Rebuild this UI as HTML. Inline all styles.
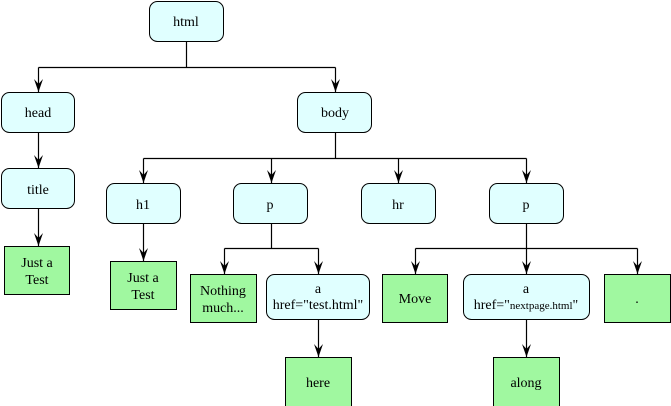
<!DOCTYPE html>
<html><head><meta charset="utf-8"><style>
html,body{margin:0;padding:0;background:#fff;}
svg{display:block;}
text{font-family:"Liberation Serif",serif;font-size:14px;fill:#000;text-anchor:middle;}
.r{fill:#e0ffff;stroke:#000;stroke-width:1;}
.g{fill:#a0f8a0;stroke:#000;stroke-width:1;}
.l{stroke:#000;stroke-width:1.2;fill:none;}
</style></head><body>
<svg width="671" height="406" viewBox="0 0 671 406" xmlns="http://www.w3.org/2000/svg">
<defs>
<marker id="a" markerWidth="14" markerHeight="10" refX="14" refY="5" orient="auto" markerUnits="userSpaceOnUse" viewBox="0 0 14 10">
<path d="M14 5 L1 0.5 L6 5 L1 9.5 Z" fill="#000"/>
</marker>
</defs>
<path class="l" d="M186.5 41 V67.5 M38.5 67.5 H335.5"/>
<path class="l" d="M38.5 67.5 V92" marker-end="url(#a)"/>
<path class="l" d="M335.5 67.5 V92" marker-end="url(#a)"/>
<path class="l" d="M38.5 132 V168" marker-end="url(#a)"/>
<path class="l" d="M38.5 208 V246" marker-end="url(#a)"/>
<path class="l" d="M335.5 132 V158.5 M143.5 158.5 H526.5"/>
<path class="l" d="M143.5 158.5 V183" marker-end="url(#a)"/>
<path class="l" d="M271.5 158.5 V183" marker-end="url(#a)"/>
<path class="l" d="M398.5 158.5 V183" marker-end="url(#a)"/>
<path class="l" d="M526.5 158.5 V183" marker-end="url(#a)"/>
<path class="l" d="M143.5 223 V261" marker-end="url(#a)"/>
<path class="l" d="M271.5 223 V248.5 M224.5 248.5 H318.5"/>
<path class="l" d="M224.5 248.5 V274" marker-end="url(#a)"/>
<path class="l" d="M318.5 248.5 V274" marker-end="url(#a)"/>
<path class="l" d="M526.5 223 V248.5 M415.5 248.5 H637.5"/>
<path class="l" d="M415.5 248.5 V274" marker-end="url(#a)"/>
<path class="l" d="M526.5 248.5 V274" marker-end="url(#a)"/>
<path class="l" d="M637.5 248.5 V274" marker-end="url(#a)"/>
<path class="l" d="M318.5 319 V357" marker-end="url(#a)"/>
<path class="l" d="M526.5 319 V357" marker-end="url(#a)"/>
<rect class="r" x="149.5" y="1.5" width="74" height="40" rx="8"/><text x="186" y="26">html</text>
<rect class="r" x="1.5" y="92.5" width="73" height="40" rx="8"/><text x="38" y="117">head</text>
<rect class="r" x="297.5" y="92.5" width="74" height="40" rx="8"/><text x="335" y="117">body</text>
<rect class="r" x="1.5" y="168.5" width="73" height="40" rx="8"/><text x="38" y="194">title</text>
<rect class="r" x="106.5" y="183.5" width="74" height="40" rx="8"/><text x="143" y="209">h1</text>
<rect class="r" x="233.5" y="183.5" width="74" height="40" rx="8"/><text x="270" y="209">p</text>
<rect class="r" x="361.5" y="183.5" width="74" height="40" rx="8"/><text x="398" y="209">hr</text>
<rect class="r" x="489.5" y="183.5" width="74" height="40" rx="8"/><text x="526" y="209">p</text>
<rect class="g" x="4.5" y="246.5" width="65" height="48"/><text x="37" y="267">Just a</text><text x="37" y="284">Test</text>
<rect class="g" x="110.5" y="261.5" width="66" height="48"/><text x="143" y="282">Just a</text><text x="143" y="299">Test</text>
<rect class="g" x="190.5" y="274.5" width="66" height="48"/><text x="223" y="295">Nothing</text><text x="223" y="312">much...</text>
<rect class="r" x="266.5" y="274.5" width="103" height="45" rx="8"/><text x="318" y="293">a</text><text x="318" y="309">href="test.html"</text>
<rect class="g" x="382.5" y="274.5" width="65" height="48"/><text x="415" y="303">Move</text>
<rect class="r" x="463.5" y="274.5" width="126" height="45" rx="8"/><text x="526" y="293">a</text><text x="526" y="309">href="<tspan style="font-size:11px">nextpage.html</tspan>"</text>
<rect class="g" x="604.5" y="274.5" width="66" height="48"/><text x="637" y="303">.</text>
<rect class="g" x="285.5" y="357.5" width="66" height="49"/><text x="318" y="387">here</text>
<rect class="g" x="493.5" y="357.5" width="66" height="49"/><text x="526" y="387">along</text>
</svg>
</body></html>
